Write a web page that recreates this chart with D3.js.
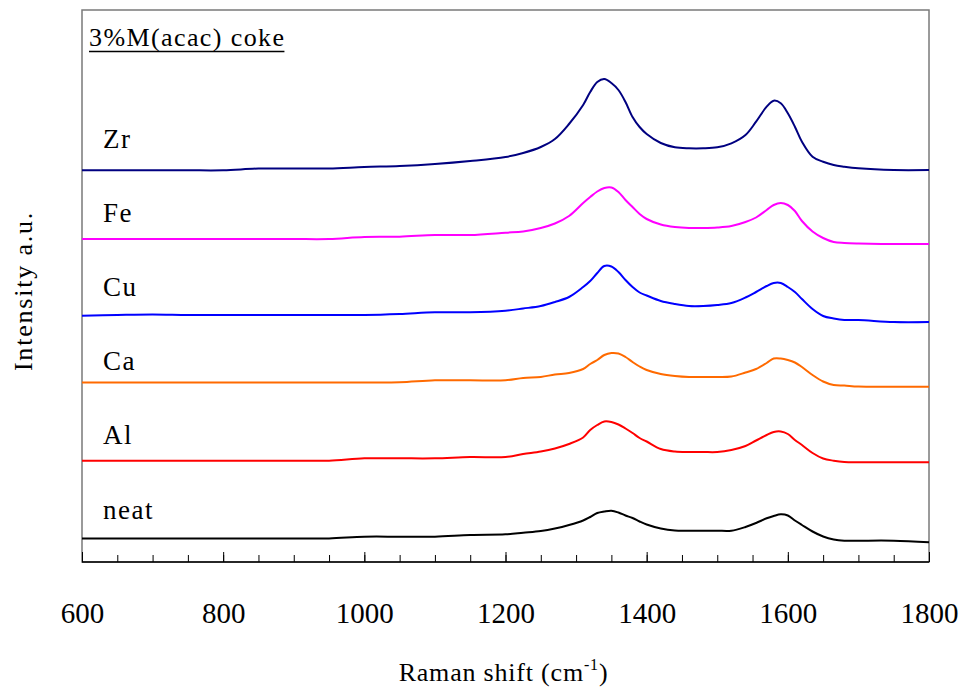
<!doctype html>
<html>
<head>
  <meta charset="UTF-8">
  <title>Raman spectra</title>
  <script src="https://cdn.jsdelivr.net/npm/d3@7/dist/d3.min.js"></script>
  <style type="text/css">
    body { margin: 0; background: #fff; }
    svg text { font-family: "Liberation Serif", "Times New Roman", Times, serif; fill: #000; }
  </style>
</head>
<body>
  <div id="chart"></div>
  <script>
    // Raman shift grid (cm-1), shared by all spectra
    var shift = [600, 650, 700, 750, 800, 850, 900, 950, 1000, 1050, 1100, 1150, 1200, 1225, 1250, 1270,
      1290, 1310, 1320, 1330, 1340, 1350, 1360, 1370, 1380, 1390, 1400, 1420, 1440, 1460, 1480, 1500,
      1520, 1540, 1555, 1570, 1580, 1590, 1600, 1610, 1620, 1635, 1650, 1665, 1680, 1700, 1750, 1800];

    var names = ["Zr", "Fe", "Cu", "Ca", "Al", "neat"];
    var colors = ["#000080", "#ff00ff", "#0000ff", "#ff6a00", "#ff0000", "#000000"];

    // intensity (a.u., stacked with offsets)
    var zr = [391.7, 391.7, 391.7, 391.7, 391.7, 393.5, 393.5, 393.5, 395, 396, 398, 401, 405, 409, 415, 423,
      438, 457, 470, 480, 483, 479, 472, 460, 445, 435, 428, 419, 414.7, 413.7, 413.7, 414.7,
      418.7, 427, 440.3, 455.3, 461.3, 458.7, 448.7, 435.3, 420.3, 405.3, 400.3, 397, 395.3, 393.7, 392, 392];
    var fe = [323, 323, 323, 323, 323, 323, 323, 323, 325, 325.3, 327, 327, 329.3, 330.5, 334, 338.5,
      346, 359, 365, 370.5, 374, 374.5, 370, 362, 355, 348, 343, 337.5, 335, 334, 334, 334.5,
      336, 340, 344.5, 352, 357, 359, 357, 351, 341, 330.5, 324, 320, 319, 318.5, 318, 318];
    var cu = [246.3, 247, 247.5, 247, 247, 247, 247, 247, 247, 248, 249.7, 249.7, 251.3, 253.5, 256, 260,
      265, 275, 281, 289, 296, 295.5, 290, 282, 275, 269.5, 266.5, 261, 258, 256, 256, 257,
      259, 264.5, 270, 276, 279, 279, 275, 270, 263, 253, 246, 243.5, 242, 242, 240, 240];
    var ca = [179.5, 179.5, 179.5, 179.5, 179.5, 179.5, 179.5, 179.5, 179.5, 179.7, 181.7, 181.7, 181.7, 184, 185, 187.5,
      189, 193, 198, 202, 207, 209, 208.5, 205, 200, 195.5, 192, 188, 186, 185, 185, 185,
      185.5, 189.5, 193, 199, 203.5, 203.5, 202, 199.5, 195, 187, 180.5, 177, 176.5, 175.5, 175.3, 175.3];
    var al = [101.3, 101.3, 101.3, 101.3, 101.3, 101.3, 101.3, 101.3, 103.7, 103.7, 103.7, 105, 105, 108, 110.5, 113.5,
      118, 124.5, 132, 137, 140.5, 140, 137.5, 133.5, 129, 124, 120.5, 113, 110.5, 110, 110, 110,
      112, 116, 121.5, 127, 130, 130.5, 128, 122, 117, 109, 103.5, 101.3, 100, 99.7, 99.7, 99.7];
    var neat = [23.5, 23.5, 23.5, 23.5, 23.5, 23.5, 23.5, 23.5, 25.3, 25.3, 25.3, 27, 27.7, 29.3, 31, 33.5,
      37, 41.5, 45, 49, 50.5, 51.3, 49.5, 46.5, 44, 40.5, 37.5, 33.5, 31.5, 31.3, 31.3, 31.3,
      31.3, 35, 39, 43.7, 46, 47.7, 46.5, 41.5, 37, 30.5, 25.5, 22.5, 21.3, 21.3, 21.3, 19.7];

    var xMajor = [600, 800, 1000, 1200, 1400, 1600, 1800];
    var xMinor = d3.range(600, 1801, 50);

    (function() {
      var W = 964, H = 687;
      var mLeft = 82, mRight = 929, mTop = 10, mBottom = 562;
      var serif = "'Liberation Serif', 'Times New Roman', Times, serif";

      var x = d3.scaleLinear().domain([600, 1800]).range([mLeft, mRight]);
      var y = d3.scaleLinear().domain([0, 552]).range([mBottom, mTop]);

      var svg = d3.select("#chart").append("svg")
        .attr("width", W)
        .attr("height", H);

      // frame
      svg.append("rect")
        .attr("x", mLeft).attr("y", mTop)
        .attr("width", mRight - mLeft).attr("height", mBottom - mTop)
        .attr("fill", "none")
        .attr("stroke", "#7a7a7a")
        .attr("stroke-width", 1.5);

      // spectra
      var series = [zr, fe, cu, ca, al, neat];
      var line = d3.line()
        .x(function(d, i) { return x(shift[i]); })
        .y(function(d) { return y(d); })
        .curve(d3.curveCatmullRom.alpha(0.5));

      series.forEach(function(s, k) {
        svg.append("path")
          .attr("d", line(s))
          .attr("fill", "none")
          .attr("stroke", colors[k])
          .attr("stroke-width", 2);
      });

      // x axis, ticks pointing inward
      var minorAxis = d3.axisBottom(x).tickValues(xMinor).tickSizeInner(-7).tickSizeOuter(0).tickFormat("");
      var majorAxis = d3.axisBottom(x).tickValues(xMajor).tickSizeInner(-10).tickSizeOuter(0)
        .tickPadding(40).tickFormat(d3.format("d"));

      var gm = svg.append("g").attr("transform", "translate(0," + mBottom + ")").call(minorAxis);
      gm.select(".domain").remove();
      gm.selectAll("line").attr("stroke", "#000").attr("stroke-width", 1);

      var gx = svg.append("g").attr("transform", "translate(0," + mBottom + ")").call(majorAxis);
      gx.select(".domain").remove();
      gx.selectAll("line").attr("stroke", "#000").attr("stroke-width", 1);
      gx.selectAll("text")
        .attr("font-family", null)
        .style("font-family", serif)
        .style("font-size", "29px")
        .attr("fill", "#000");

      svg.append("line")
        .attr("x1", mLeft).attr("x2", mRight)
        .attr("y1", mBottom).attr("y2", mBottom)
        .attr("stroke", "#000").attr("stroke-width", 1.5);

      // series labels
      svg.selectAll(".lab")
        .data(names)
        .enter().append("text")
        .attr("class", "lab")
        .attr("x", 103)
        .attr("y", function(d, i) { return 148 + i * 74.1; })
        .style("font-size", "27px")
        .style("letter-spacing", "1.5px")
        .text(String);

      // panel title with underline
      var title = svg.append("text")
        .attr("x", 89).attr("y", 46)
        .style("font-size", "26px")
        .style("letter-spacing", "1.4px")
        .text("3%M(acac) coke");
      var tb = title.node().getBBox();
      svg.append("line")
        .attr("x1", 89).attr("x2", tb.x + tb.width - 1)
        .attr("y1", 51.5).attr("y2", 51.5)
        .attr("stroke", "#000").attr("stroke-width", 1.6);

      // axis titles
      var xt = svg.append("text")
        .attr("x", (mLeft + mRight) / 2 - 2).attr("y", 681)
        .attr("text-anchor", "middle")
        .style("font-size", "26px")
        .style("letter-spacing", "0.8px");
      xt.append("tspan").text("Raman shift (cm");
      xt.append("tspan").attr("dy", -11).style("font-size", "16px").text("-1");
      xt.append("tspan").attr("dy", 11).text(")");

      svg.append("text")
        .attr("transform", "translate(32,291) rotate(-90)")
        .attr("text-anchor", "middle")
        .style("font-size", "26px")
        .style("letter-spacing", "1.8px")
        .text("Intensity a.u.");
    })();
  </script>
</body>
</html>
